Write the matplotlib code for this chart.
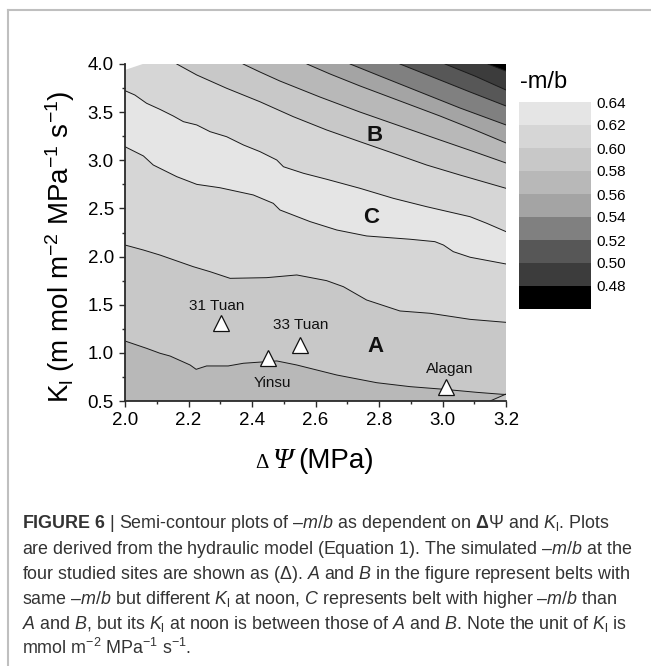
import numpy as np
import matplotlib as mpl
import matplotlib.pyplot as plt
from matplotlib.colors import ListedColormap, BoundaryNorm
from matplotlib.lines import Line2D

plt.rcParams['font.family'] = ['Liberation Sans', 'DejaVu Sans']
plt.rcParams['mathtext.fontset'] = 'custom'
plt.rcParams['mathtext.rm'] = 'Liberation Sans'
plt.rcParams['mathtext.it'] = 'Liberation Sans:italic'
plt.rcParams['mathtext.bf'] = 'Liberation Sans:bold'

# colour bar of -m/b
levels = [0.46, 0.48, 0.50, 0.52, 0.54, 0.56, 0.58, 0.60, 0.62, 0.64]
tick_levels = [0.48, 0.50, 0.52, 0.54, 0.56, 0.58, 0.60, 0.62, 0.64]
band_colors = ['#000000', '#3c3c3c', '#575757', '#808080', '#a4a4a4',
               '#b8b8b8', '#c8c8c8', '#d6d6d6', '#e5e5e5']

# contour lines (dPsi in MPa, Kl)
# lines crossing the whole plot from left to right
c1_x = [2.000, 2.068, 2.110, 2.142, 2.205, 2.224, 2.257, 2.325, 2.373, 2.478,
        2.541, 2.667, 2.793, 2.898, 3.003, 3.108, 3.186, 3.200]
c1_y = [1.123, 1.047, 0.996, 0.967, 0.874, 0.829, 0.864, 0.864, 0.892, 0.916,
        0.874, 0.770, 0.690, 0.649, 0.622, 0.590, 0.570, 0.568]
c2_x = [2.000, 2.058, 2.110, 2.215, 2.268, 2.331, 2.446, 2.541, 2.635, 2.688,
        2.761, 2.866, 2.961, 3.087, 3.200]
c2_y = [2.120, 2.068, 2.016, 1.895, 1.843, 1.774, 1.781, 1.809, 1.750, 1.687,
        1.549, 1.435, 1.411, 1.348, 1.317]
c3_x = [2.000, 2.058, 2.089, 2.163, 2.226, 2.299, 2.404, 2.467, 2.488, 2.583,
        2.667, 2.761, 2.898, 2.976, 3.003, 3.034, 3.087, 3.200]
c3_y = [3.141, 3.045, 2.951, 2.830, 2.750, 2.715, 2.640, 2.553, 2.484, 2.363,
        2.276, 2.214, 2.180, 2.155, 2.120, 2.051, 1.993, 1.923]
c4_x = [2.000, 2.031, 2.068, 2.110, 2.152, 2.184, 2.226, 2.268, 2.320, 2.373,
        2.425, 2.478, 2.499, 2.562, 2.635, 2.740, 2.845, 2.950, 3.087, 3.139, 3.200]
c4_y = [3.723, 3.678, 3.592, 3.529, 3.460, 3.401, 3.367, 3.297, 3.245, 3.159,
        3.090, 3.003, 2.933, 2.865, 2.803, 2.709, 2.605, 2.518, 2.414, 2.346, 2.259]
# lines running from the top edge to the right edge
c5_x = [2.163, 2.226, 2.320, 2.425, 2.530, 2.635, 2.740, 2.845, 2.950, 3.055, 3.200]
c5_y = [4.000, 3.886, 3.748, 3.608, 3.453, 3.315, 3.193, 3.073, 2.951, 2.847, 2.709]
c6_x = [2.372, 2.425, 2.488, 2.614, 2.740, 2.866, 2.992, 3.102, 3.200]
c6_y = [4.000, 3.917, 3.823, 3.657, 3.501, 3.356, 3.211, 3.086, 2.972]
c7_x = [2.573, 2.646, 2.740, 2.866, 2.992, 3.102, 3.200]
c7_y = [4.000, 3.896, 3.772, 3.616, 3.460, 3.315, 3.180]
c8_x = [2.709, 2.803, 2.929, 3.055, 3.200]
c8_y = [4.000, 3.875, 3.709, 3.543, 3.367]
c9_x = [2.866, 2.961, 3.087, 3.200]
c9_y = [4.000, 3.875, 3.709, 3.564]
c10_x = [3.008, 3.102, 3.200]
c10_y = [4.000, 3.875, 3.730]
c11_x = [3.143, 3.200]
c11_y = [4.000, 3.927]
# small corner line at the bottom right
c0_x = [3.150, 3.200]
c0_y = [0.500, 0.572]
# blank (no data) corner at top left
blank_x = [2.000, 2.000, 2.056]
blank_y = [4.000, 3.938, 4.000]

# -m/b of the belt lying above / right of each line
base_val = 0.57
c_vals = [0.59, 0.61, 0.63, 0.61, 0.59, 0.57, 0.55, 0.53, 0.51, 0.49, 0.47]
c0_val = 0.59

# study sites
site_names = ['31 Tuan', '33 Tuan', 'Yinsu', 'Alagan']
site_x = [2.301, 2.550, 2.451, 3.010]
site_y = [1.313, 1.078, 0.943, 0.649]
name_x = [2.290, 2.553, 2.465, 3.024]
name_y = [1.484, 1.288, 0.687, 0.836]

belt_names = ['A', 'B', 'C']
belt_x = [2.788, 2.787, 2.775]
belt_y = [1.064, 3.256, 2.408]

caption = [
    r'$\mathbf{FIGURE\ 6}$ | Semi-contour plots of –$\mathit{m/b}$ as dependent on $\mathbf{\Delta}\mathit{Ψ}$ and $\mathit{K}_{\mathrm{l}}$. Plots',
    r'are derived from the hydraulic model (Equation 1). The simulated –$\mathit{m/b}$ at the',
    r'four studied sites are shown as (Δ). $\mathit{A}$ and $\mathit{B}$ in the figure represent belts with',
    r'same –$\mathit{m/b}$ but different $\mathit{K}_{\mathrm{l}}$ at noon, $\mathit{C}$ represents belt with higher –$\mathit{m/b}$ than',
    r'$\mathit{A}$ and $\mathit{B}$, but its $\mathit{K}_{\mathrm{l}}$ at noon is between those of $\mathit{A}$ and $\mathit{B}$. Note the unit of $\mathit{K}_{\mathrm{l}}$ is',
    r'mmol m$^{-2}$ MPa$^{-1}$ s$^{-1}$.',
]

W, H = 651, 666
fig = plt.figure(figsize=(W / 100, H / 100), dpi=100)
ax = fig.add_axes([125 / W, 1 - 401 / H, 381 / W, 337 / H])

cmap = ListedColormap(band_colors)
norm = BoundaryNorm(levels, cmap.N)

xmin, xmax, ymin, ymax = 2.0, 3.2, 0.5, 4.0
ax.fill([xmin, xmax, xmax, xmin], [ymin, ymin, ymax, ymax],
        color=cmap(norm(base_val)), lw=0, zorder=1)

lines = [(c1_x, c1_y), (c2_x, c2_y), (c3_x, c3_y), (c4_x, c4_y), (c5_x, c5_y),
         (c6_x, c6_y), (c7_x, c7_y), (c8_x, c8_y), (c9_x, c9_y),
         (c10_x, c10_y), (c11_x, c11_y)]
for i, ((lx, ly), v) in enumerate(zip(lines, c_vals)):
    if i < 4:
        px = lx + [xmax, xmin]
        py = ly + [ymax, ymax]
    else:
        px = lx + [xmax]
        py = ly + [ymax]
    ax.fill(px, py, color=cmap(norm(v)), lw=0, zorder=1 + i * 0.01)
ax.fill(c0_x + [xmax], c0_y + [ymin], color=cmap(norm(c0_val)), lw=0, zorder=1.2)
ax.fill(blank_x, blank_y, color='white', lw=0, zorder=1.3)

for lx, ly in lines + [(c0_x, c0_y)]:
    ax.plot(lx, ly, color='#1a1a1a', lw=0.7, zorder=2)

ax.plot(site_x, site_y, '^', ms=11.5, mfc='white', mec='#111111', mew=0.9,
        ls='none', zorder=4, clip_on=False)
for n, x, y in zip(site_names, name_x, name_y):
    ax.text(x, y, n, fontsize=11, ha='center', va='center', color='#111111', zorder=5)
for n, x, y in zip(belt_names, belt_x, belt_y):
    ax.text(x, y, n, fontsize=16, fontweight='bold', ha='center', va='center',
            color='#111111', zorder=5)

ax.set_xlim(xmin, xmax)
ax.set_ylim(ymin, ymax)
ax.set_xticks(np.arange(2.0, 3.21, 0.2))
ax.set_xticks(np.arange(2.1, 3.2, 0.2), minor=True)
ax.set_yticks(np.arange(0.5, 4.01, 0.5))
ax.set_yticks(np.arange(0.75, 4.0, 0.5), minor=True)
ax.set_xticklabels(['%.1f' % v for v in np.arange(2.0, 3.21, 0.2)])
ax.set_yticklabels(['%.1f' % v for v in np.arange(0.5, 4.01, 0.5)])
for s in ['top', 'right']:
    ax.spines[s].set_visible(False)
for s in ['left', 'bottom']:
    ax.spines[s].set_linewidth(1.3)
    ax.spines[s].set_color('#2a2a2a')
    ax.spines[s].set_zorder(6)
ax.tick_params(which='major', direction='out', length=4.5, width=1.0,
               labelsize=13.5, color='#2a2a2a', pad=3.5)
ax.tick_params(which='minor', direction='out', length=2.5, width=1.0, color='#2a2a2a')

# axis titles
fig.text(60 / W, 1 - 246.5 / H,
         r'K$_{\mathrm{l}}$ (m mol m$^{-2}$ MPa$^{-1}$ s$^{-1}$)',
         rotation=90, ha='center', va='center', fontsize=20)
base = 1 - 468 / H
fig.text(262 / W, base, 'Δ', fontsize=15, family='Liberation Serif',
         ha='center', va='baseline')
fig.text(283 / W, base, 'Ψ', fontsize=21, family='Liberation Serif',
         style='italic', ha='center', va='baseline')
fig.text(298 / W, base, '(MPa)', fontsize=20, ha='left', va='baseline')

# colour bar
cax = fig.add_axes([519 / W, 1 - 309 / H, 72 / W, 207 / H])
cb = fig.colorbar(mpl.cm.ScalarMappable(norm=norm, cmap=cmap), cax=cax,
                  ticks=tick_levels, spacing='uniform')
cb.outline.set_visible(False)
cb.ax.set_yticklabels(['%.2f' % v for v in tick_levels])
cax.minorticks_off()
cax.tick_params(which='both', length=0, labelsize=11, pad=4)
fig.text(520 / W, 1 - 82 / H, '-m/b', fontsize=17, ha='left', va='center')

# caption
baselines = [528, 553.5, 579, 604.5, 629.5, 654]
for line, b in zip(caption, baselines):
    fig.text(21.5 / W, 1 - b / H, line, fontsize=12.9, color='#333333',
             ha='left', va='baseline')

# frame of the figure panel
fig.add_artist(Line2D([8 / W, 1], [1 - 10 / H, 1 - 10 / H], color='#bfbfbf', lw=1.5))
fig.add_artist(Line2D([8 / W, 8 / W], [0, 1 - 10 / H], color='#bfbfbf', lw=1.5))

fig.savefig('out.png', dpi=100)
